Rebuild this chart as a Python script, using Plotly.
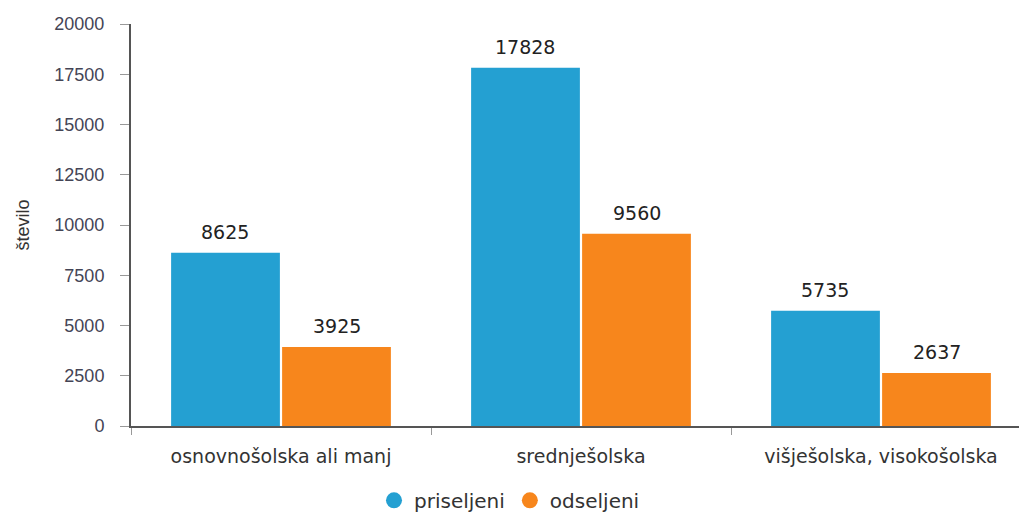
import plotly.graph_objects as go

categories = ["osnovnošolska ali manj", "srednješolska", "višješolska, visokošolska"]
priseljeni = [8625, 17828, 5735]
odseljeni = [3925, 9560, 2637]
y_ticks = [0, 2500, 5000, 7500, 10000, 12500, 15000, 17500, 20000]
y_ticktext = [str(v) for v in y_ticks]
series_names = ["priseljeni", "odseljeni"]
colors = ["#24a0d2", "#f7861c"]

fig = go.Figure()
for name, vals, col in zip(series_names, [priseljeni, odseljeni], colors):
    fig.add_trace(go.Bar(x=categories, y=vals, name=name, marker_color=col,
                         marker_line_width=0, showlegend=False))
    fig.add_trace(go.Scatter(x=[None], y=[None], mode="markers", name=name,
                             marker=dict(color=col, size=19, symbol="circle")))

for vals, shift in zip([priseljeni, odseljeni], [-56, 56]):
    for c, v in zip(categories, vals):
        fig.add_annotation(x=c, y=v, text=str(v), showarrow=False, xshift=shift,
                           yanchor="bottom", yshift=8,
                           font=dict(family="DejaVu Sans", size=19, color="#222222"))

fig.update_layout(
    width=1019, height=514,
    margin=dict(l=131, r=0, t=24, b=88, autoexpand=False),
    paper_bgcolor="white", plot_bgcolor="white",
    barmode="group", bargap=0.26, bargroupgap=0.02,
    showlegend=True,
    legend=dict(orientation="h", xref="container", x=0.5, xanchor="center",
                yref="paper", y=-0.185, yanchor="middle",
                font=dict(family="DejaVu Sans", size=20, color="#333333"),
                itemwidth=30, tracegroupgap=0),
    xaxis=dict(range=[-0.5, 2.46], showline=True, linecolor="#555555", linewidth=2,
               ticks="outside", tickson="boundaries", ticklen=7, tickcolor="#999999",
               tickfont=dict(family="DejaVu Sans", size=19, color="#333333"),
               ticklabelstandoff=12, automargin=False,
               showgrid=False, zeroline=False),
    yaxis=dict(range=[0, 20000], tickvals=y_ticks, ticktext=y_ticktext, showline=True,
               linecolor="#555555", linewidth=2, ticks="outside", ticklen=9,
               tickcolor="#999999", ticklabelstandoff=12, automargin=False,
               tickfont=dict(family="Liberation Sans", size=18, color="#444455"),
               showgrid=False, zeroline=False,
               title=dict(text="število", font=dict(family="Liberation Sans", size=18, color="#333333"),
                          standoff=20)),
)
fig.write_html("out.html", config={"displayModeBar": False},
               post_script="document.body.style.margin='0';document.body.style.overflow='hidden';")
